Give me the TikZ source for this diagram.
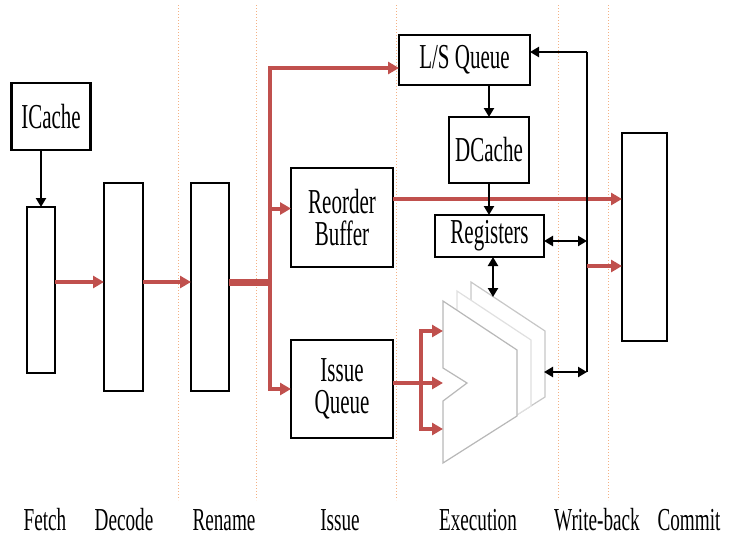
\documentclass[tikz,border=0pt]{standalone}
\usepackage{fontspec}
\setmainfont[FakeStretch=0.6]{Liberation Serif}
\usetikzlibrary{arrows.meta}
\definecolor{pipered}{RGB}{192,80,77}
\definecolor{stageline}{RGB}{244,177,131}

\begin{document}
\begin{tikzpicture}[x=1pt,y=-1pt,
    font=\fontsize{35}{32}\selectfont,
    unit/.style={shape=rectangle,draw=black,line width=2.6pt,inner sep=0pt,outer sep=0pt,align=center},
    thinunit/.style={unit,line width=1.2pt},
    stagename/.style={anchor=base,inner sep=0pt,font=\fontsize{32}{32}\selectfont},
    redarrow/.style={-{Triangle[length=11pt,width=12pt]},line width=4pt,draw=pipered},
    redfork/.style={{Triangle[length=11pt,width=12pt]}-{Triangle[length=11pt,width=12pt]},line width=4pt,draw=pipered},
    blkarrow/.style={-{Triangle[length=9pt,width=10pt]},line width=2.4pt},
    dblarrow/.style={{Triangle[length=9pt,width=10pt]}-{Triangle[length=9pt,width=10pt]},line width=2.4pt},
    stage/.style={draw=stageline,dotted,line width=1pt}]
    \useasboundingbox (0,0) rectangle (731,536);

    % stage borders
    \foreach \sx in {178,256,396,558,608}
        \draw[stage] (\sx,5) -- (\sx,500);

    % boxes
    \node[unit,minimum width=79pt,minimum height=67pt] (IC) at (51,116.5) {ICache};
    \node[thinunit,minimum width=28pt,minimum height=166pt] (F) at (41,290) {};
    \node[unit,minimum width=39pt,minimum height=208pt] (D) at (123.5,287) {};
    \node[unit,minimum width=38pt,minimum height=208pt] (R) at (210,287) {};
    \node[unit,minimum width=102pt,minimum height=99pt] (ROB) at (342,217.5) {Reorder\\Buffer};
    \node[unit,minimum width=102pt,minimum height=98pt] (IQ) at (342,389) {Issue\\Queue};
    \node[unit,minimum width=131pt,minimum height=50pt] (LSQ) at (464.5,60) {L/S Queue};
    \node[unit,minimum width=80pt,minimum height=66pt] (DC) at (489,150) {DCache};
    \node[thinunit,minimum width=109pt,minimum height=42pt] (REG) at (489.5,236) {Registers};
    \node[unit,minimum width=45pt,minimum height=208pt] (C) at (644.5,237) {};

    % execution units
    \foreach \dx/\dy/\shade in {28/-19/black!22,14/-10/black!12,0/0/black!28}
        \filldraw[fill=white,draw=\shade,line width=1.2pt,shift={(\dx,\dy)}]
            (443,301) -- (517,350) -- (517,416) -- (443,463) -- (443,401) -- (467,383) -- (443,368) -- cycle;

    \coordinate (row) at (0,282);
    \coordinate (bustop) at (270,68);
    \coordinate (busbot) at (270,389);
    \coordinate (busmid) at (272,282);
    \coordinate (fork) at (421,383);
    \coordinate (exup) at (443,331);
    \coordinate (exmid) at (443,383);
    \coordinate (exlow) at (443,429);
    \coordinate (extop) at (493,297);
    \coordinate (export) at (544,372);
    \coordinate (wbtop) at (587,52);
    \coordinate (wbbot) at (587,372);

    % front end
    \draw[blkarrow] (IC.south -| F.north) -- (F.north);
    \draw[redarrow] (F.east |- row) -- (D.west |- row);
    \draw[redarrow] (D.east |- row) -- (R.west |- row);
    \draw[draw=pipered,line width=7pt] (R.east |- row) -- (busmid);

    % dispatch
    \draw[redfork] (LSQ.west |- bustop) -- (bustop) -- (busbot) -- (IQ.west |- busbot);
    \draw[redarrow] (bustop |- ROB.west) ++(0,-9) -- ([yshift=9pt]ROB.west);
    \draw[redarrow] (IQ.east |- fork) -- (exmid);
    \draw[redfork] (exup) -- (exup -| fork) -- (exlow -| fork) -- (exlow);
    \draw[redarrow] (ROB.east |- 0,199) -- (C.west |- 0,199);

    % memory and write-back
    \draw[blkarrow] (LSQ.south -| DC.north) -- (DC.north);
    \draw[blkarrow] (DC.south) -- (REG.north -| DC.south);
    \draw[dblarrow] (REG.south -| extop) -- (extop);
    \draw[line width=2.4pt] (wbbot) -- (wbtop);
    \draw[blkarrow] (wbtop) -- (LSQ.east |- wbtop);
    \draw[dblarrow] (REG.east |- 0,241) -- (wbtop |- 0,241);
    \draw[dblarrow] (export) -- (wbbot);
    \draw[redarrow] (wbtop |- 0,266) -- (C.west |- 0,266);

    % stage names
    \node[stagename] (fetch) at (45,530) {Fetch};
    \node[stagename] (decode) at (124,530) {Decode};
    \node[stagename] (rename) at (224,530) {Rename};
    \node[stagename] (issue) at (340,530) {Issue};
    \node[stagename] (exec) at (478,530) {Execution};
    \node[stagename] (wb) at (597,530) {Write-back};
    \node[stagename] (commit) at (689,530) {Commit};
\end{tikzpicture}
\end{document}
